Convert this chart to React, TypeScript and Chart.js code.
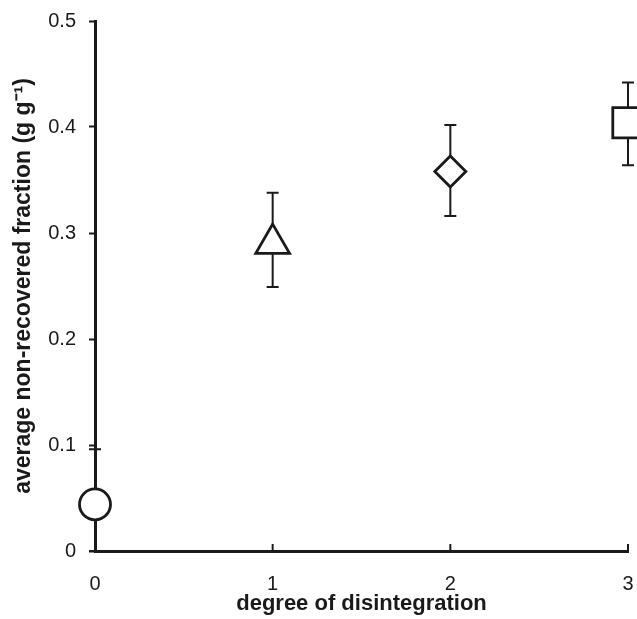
import React, { useEffect, useRef } from "react";
import { Chart, registerables } from "chart.js";

Chart.register(...registerables);

const degrees = [0, 1, 2, 3];
const meanValues = [0.044, 0.29, 0.358, 0.404];
const errorHigh = [0.096, 0.338, 0.402, 0.442];
const errorLow = [0, 0.249, 0.316, 0.364];
const markerStyles = ["circle", "triangle", "rectRot", "rect"];
const markerRadius = [15.5, 19.5, 15.5, 21.5];
const xTickLabels = ["0", "1", "2", "3"];
const yTickLabels = ["0", "0.1", "0.2", "0.3", "0.4", "0.5"];
const xTitle = "degree of disintegration";
const yTitle = "average non-recovered fraction (g g\u207B\u00B9)";

const INK = "#1a1a1a";
const FONT = "'Liberation Sans', Arial, sans-serif";

const errorBarPlugin = {
  id: "errorBars",
  beforeDatasetsDraw(chart: any) {
    const { ctx, scales } = chart;
    const xs = scales.x;
    const ys = scales.y;
    ctx.save();
    ctx.strokeStyle = INK;
    ctx.lineWidth = 2;
    degrees.forEach((d, i) => {
      const px = xs.getPixelForValue(d);
      const hi = ys.getPixelForValue(errorHigh[i]);
      const lo = ys.getPixelForValue(errorLow[i]);
      ctx.beginPath();
      ctx.moveTo(px, hi);
      ctx.lineTo(px, lo);
      ctx.moveTo(px - 6, hi);
      ctx.lineTo(px + 6, hi);
      ctx.moveTo(px - 6, lo);
      ctx.lineTo(px + 6, lo);
      ctx.stroke();
    });
    ctx.restore();
  },
  afterDraw(chart: any) {
    const { ctx, scales, chartArea } = chart;
    const xs = scales.x;
    ctx.save();
    ctx.strokeStyle = INK;
    ctx.lineWidth = 2;
    degrees.forEach((d) => {
      if (d === 0) return;
      const px = xs.getPixelForValue(d);
      ctx.beginPath();
      ctx.moveTo(px, chartArea.bottom);
      ctx.lineTo(px, chartArea.bottom - 7);
      ctx.stroke();
    });
    ctx.restore();
  },
};

export default function App() {
  const ref = useRef<HTMLCanvasElement | null>(null);

  useEffect(() => {
    if (!ref.current) return;
    const chart = new Chart(ref.current, {
      type: "scatter",
      data: {
        datasets: [
          {
            data: degrees.map((d, i) => ({ x: d, y: meanValues[i] })),
            pointStyle: markerStyles as any,
            pointRadius: markerRadius,
            pointHoverRadius: markerRadius,
            pointBackgroundColor: "#ffffff",
            pointBorderColor: INK,
            pointBorderWidth: 2.8,
            clip: false as any,
          },
        ],
      },
      options: {
        animation: false,
        responsive: true,
        maintainAspectRatio: false,
        layout: { autoPadding: false, padding: { top: 21, right: 9, left: 0, bottom: 0 } },
        plugins: {
          legend: { display: false },
          tooltip: { enabled: false },
        },
        scales: {
          x: {
            type: "linear",
            min: 0,
            max: 3,
            afterFit(scale: any) {
              scale.height = 68;
              scale.paddingLeft = 0;
              scale.paddingRight = 0;
            },
            afterBuildTicks(scale: any) {
              scale.ticks = degrees.map((v) => ({ value: v }));
            },
            grid: { display: false, drawTicks: false },
            border: { display: true, color: INK, width: 3 },
            ticks: {
              padding: 21,
              color: INK,
              font: { family: FONT, size: 20 },
              callback: (v: any) => xTickLabels[degrees.indexOf(Number(v))] ?? "",
              maxRotation: 0,
            },
            title: {
              display: true,
              text: xTitle,
              color: INK,
              font: { family: FONT, size: 22, weight: "bold" },
              padding: { top: 0, bottom: 2 },
            },
          },
          y: {
            type: "linear",
            min: 0,
            max: 0.5,
            afterFit(scale: any) {
              scale.width = 95;
              scale.paddingTop = 0;
              scale.paddingBottom = 0;
            },
            afterBuildTicks(scale: any) {
              scale.ticks = yTickLabels.map((t) => ({ value: parseFloat(t) }));
            },
            grid: {
              display: true,
              drawOnChartArea: false,
              drawTicks: true,
              tickLength: 6,
              tickColor: INK,
              tickWidth: 2,
            },
            border: { display: true, color: INK, width: 3 },
            ticks: {
              padding: 13,
              color: INK,
              font: { family: FONT, size: 20 },
              callback: (v: any, i: number) => yTickLabels[i] ?? String(v),
            },
            title: {
              display: true,
              text: yTitle,
              color: INK,
              font: { family: FONT, size: 23, weight: "bold" },
              padding: { top: 10, bottom: 0 },
            },
          },
        },
      },
      plugins: [errorBarPlugin],
    });
    return () => chart.destroy();
  }, []);

  return (
    <div style={{ position: "fixed", left: 0, top: 0, width: 637, height: 619, background: "#fff" }}>
      <canvas ref={ref} />
    </div>
  );
}
